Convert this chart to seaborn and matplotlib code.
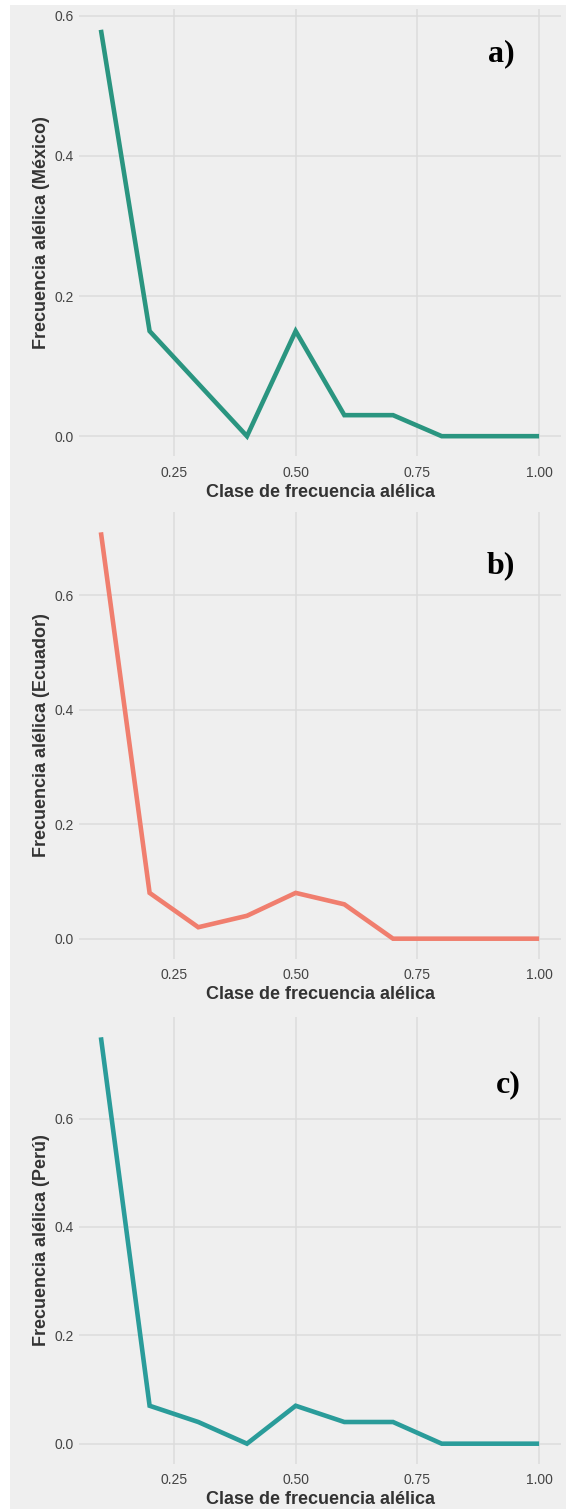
import matplotlib
matplotlib.use("Agg")
import matplotlib.pyplot as plt
import seaborn as sns
import pandas as pd
from matplotlib.patches import Rectangle

# Allele frequency classes (x) and allele frequency per population (y)
clases = [0.1, 0.2, 0.3, 0.4, 0.5, 0.6, 0.7, 0.8, 0.9, 1.0]
mexico = [0.58, 0.15, 0.075, 0.0, 0.15, 0.03, 0.03, 0.0, 0.0, 0.0]
ecuador = [0.71, 0.08, 0.02, 0.04, 0.08, 0.06, 0.0, 0.0, 0.0, 0.0]
peru = [0.75, 0.07, 0.04, 0.0, 0.07, 0.04, 0.04, 0.0, 0.0, 0.0]

x_ticks = [0.25, 0.50, 0.75, 1.00]
x_ticklabels = ["0.25", "0.50", "0.75", "1.00"]
y_ticks = [0.0, 0.2, 0.4, 0.6]
y_ticklabels = ["0.0", "0.2", "0.4", "0.6"]

paneles = [
    ("México", mexico, "#2a9580", "a)", (0.922, 0.546)),
    ("Ecuador", ecuador, "#f07e6e", "b)", (0.922, 0.652)),
    ("Perú", peru, "#2a9c9a", "c)", (0.936, 0.663)),
]

sns.set_theme(style="whitegrid")
plt.rcParams["font.family"] = ["Liberation Sans", "DejaVu Sans"]

BG = "#efefef"
GRID = "#dcdcdc"

fig = plt.figure(figsize=(5.66, 15.09), dpi=100)
fig.patch.set_facecolor("white")
fig.add_artist(Rectangle((10 / 566, 0), 1 - 10 / 566, 1 - 5 / 1509,
                         transform=fig.transFigure, facecolor=BG,
                         edgecolor="none", zorder=0))

W, H = 566, 1509
left_px, right_px = 79, 561
tops_px = [9.5, 512, 1017]
height_px = 447

for (pais, valores, color, etiqueta, pos), top in zip(paneles, tops_px):
    ax = fig.add_axes([left_px / W, 1 - (top + height_px) / H,
                       (right_px - left_px) / W, height_px / H])
    ax.set_facecolor(BG)
    df = pd.DataFrame({"clase": clases, "frecuencia": valores})
    sns.lineplot(data=df, x="clase", y="frecuencia", ax=ax, color=color,
                 linewidth=3.3, solid_joinstyle="miter", solid_capstyle="butt")
    ymax = max(valores)
    ax.set_ylim(-0.05 * ymax, 1.05 * ymax)
    ax.set_xlim(0.055, 1.045)
    ax.set_xticks(x_ticks)
    ax.set_xticklabels(x_ticklabels)
    ax.set_yticks(y_ticks)
    ax.set_yticklabels(y_ticklabels)
    ax.grid(True, color=GRID, linewidth=1.1)
    ax.set_axisbelow(True)
    for s in ax.spines.values():
        s.set_visible(False)
    ax.tick_params(axis="both", length=0, labelsize=10, labelcolor="#444444")
    ax.tick_params(axis="x", pad=6.5)
    ax.tick_params(axis="y", pad=4)
    ax.set_xlabel("Clase de frecuencia alélica", fontsize=13,
                  fontweight="bold", color="#333333", labelpad=3)
    ax.set_ylabel(f"Frecuencia alélica ({pais})", fontsize=13,
                  fontweight="bold", color="#333333", labelpad=3)
    ax.text(pos[0], pos[1], etiqueta, fontsize=23, fontweight="bold",
            family="Liberation Serif", color="black", ha="center", va="center")

fig.savefig("out.png", dpi=100, facecolor=fig.get_facecolor())
